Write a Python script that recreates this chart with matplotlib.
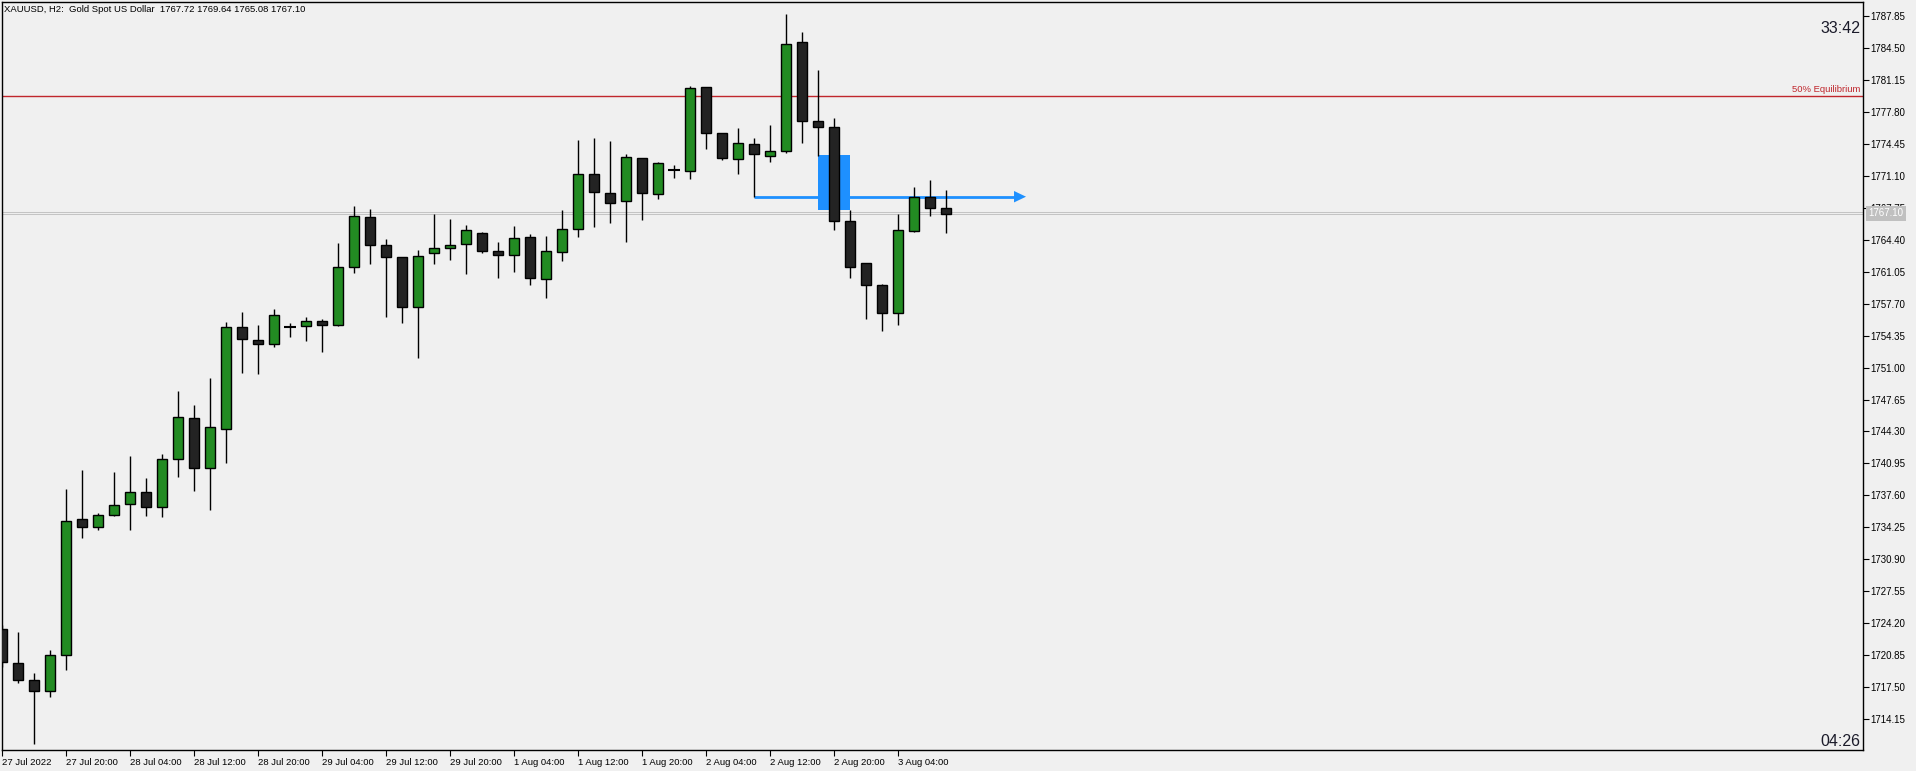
import matplotlib
matplotlib.use("Agg")
import matplotlib.pyplot as plt
from matplotlib.patches import Rectangle, Polygon
import numpy as np

# XAUUSD H2 candles, 27 Jul 12:00 .. 3 Aug 10:00
opens = [1723.56, 1720.00, 1718.22, 1717.06, 1720.84, 1735.09, 1734.25, 1735.51, 1736.67, 1737.92,
         1736.35, 1741.38, 1745.68, 1740.44, 1744.53, 1755.22, 1753.86, 1753.44, 1755.28, 1755.32,
         1755.85, 1755.43, 1761.51, 1766.75, 1763.81, 1762.56, 1757.32, 1762.98, 1763.50, 1763.92,
         1765.07, 1763.19, 1762.77, 1764.65, 1760.25, 1763.08, 1765.49, 1771.26, 1769.27, 1768.43,
         1772.93, 1769.16, 1771.71, 1771.57, 1780.38, 1775.55, 1772.83, 1774.40, 1773.14, 1773.67,
         1785.09, 1776.81, 1776.18, 1766.33, 1761.93, 1759.62, 1756.69, 1765.28, 1768.85, 1767.72]
highs = [1724.00, 1723.28, 1718.98, 1721.39, 1738.27, 1740.26, 1735.72, 1740.05, 1741.73, 1739.42,
         1741.94, 1748.54, 1747.04, 1749.90, 1755.74, 1756.79, 1755.46, 1757.14, 1755.64, 1756.30,
         1756.06, 1764.06, 1767.93, 1767.62, 1764.47, 1762.60, 1763.32, 1767.10, 1766.57, 1765.94,
         1765.21, 1764.16, 1765.84, 1765.00, 1764.79, 1767.51, 1774.85, 1775.06, 1774.75, 1773.38,
         1773.00, 1772.51, 1772.20, 1780.51, 1780.40, 1775.60, 1776.08, 1775.03, 1776.42, 1788.06,
         1786.17, 1782.19, 1777.13, 1767.48, 1761.95, 1759.73, 1767.06, 1769.93, 1770.66, 1769.64]
lows = [1719.60, 1717.90, 1711.51, 1716.50, 1719.33, 1733.16, 1734.00, 1735.45, 1734.00, 1735.47,
        1735.37, 1739.56, 1738.09, 1736.10, 1741.03, 1750.46, 1750.36, 1753.19, 1754.23, 1753.81,
        1752.66, 1755.32, 1760.94, 1761.89, 1756.33, 1755.70, 1752.03, 1761.89, 1762.30, 1760.84,
        1762.98, 1760.42, 1761.05, 1759.68, 1758.32, 1762.20, 1764.72, 1765.76, 1766.18, 1764.19,
        1766.50, 1768.70, 1770.90, 1770.80, 1773.94, 1772.72, 1771.32, 1768.85, 1772.51, 1773.46,
        1774.57, 1773.21, 1765.45, 1760.42, 1756.06, 1754.86, 1755.49, 1765.25, 1766.92, 1765.08]
closes = [1720.10, 1718.22, 1717.06, 1720.84, 1734.88, 1734.25, 1735.51, 1736.56, 1737.92, 1736.35,
          1741.38, 1745.78, 1740.44, 1744.74, 1755.22, 1753.96, 1753.44, 1756.48, 1755.28, 1755.85,
          1755.43, 1761.51, 1766.85, 1763.81, 1762.56, 1757.32, 1762.66, 1763.50, 1763.81, 1765.39,
          1763.19, 1762.77, 1764.55, 1760.36, 1763.19, 1765.49, 1771.26, 1769.37, 1768.22, 1773.04,
          1769.27, 1772.41, 1771.71, 1780.27, 1775.55, 1772.93, 1774.51, 1773.35, 1773.67, 1784.91,
          1776.81, 1776.18, 1766.33, 1761.51, 1759.62, 1756.69, 1765.39, 1768.85, 1767.69, 1767.10]

time_labels = ["27 Jul 2022", "27 Jul 20:00", "28 Jul 04:00", "28 Jul 12:00", "28 Jul 20:00",
               "29 Jul 04:00", "29 Jul 12:00", "29 Jul 20:00", "1 Aug 04:00", "1 Aug 12:00",
               "1 Aug 20:00", "2 Aug 04:00", "2 Aug 12:00", "2 Aug 20:00", "3 Aug 04:00"]
time_label_bars = [0, 4, 8, 12, 16, 20, 24, 28, 32, 36, 40, 44, 48, 52, 56]

price_ticks = [1714.15 + 3.35 * k for k in range(23)]

equilibrium = 1779.43
bid, ask = 1767.10, 1767.32
zone_bars = (51, 53)
zone_prices = (1767.51, 1773.28)
level_price = 1768.91
level_bars = (47, 64)

bg = "#f0f0f0"
up_col = "#228b22"
dn_col = "#232323"
blue = "#1e90ff"
font = ["Liberation Sans", "DejaVu Sans"]
plt.rcParams["font.family"] = font

W, H = 1916, 771
fig = plt.figure(figsize=(W / 100, H / 100), dpi=100, facecolor=bg)
ax = fig.add_axes([2 / W, 21 / H, 1861 / W, 748 / H], facecolor=bg)

n = len(opens)
bw = 0.62
for i in range(n):
    o, hi, lo, c = opens[i], highs[i], lows[i], closes[i]
    ax.vlines(i, lo, hi, color="black", lw=1.0, zorder=3)
    if abs(c - o) < 0.01:
        ax.hlines(o, i - 0.36, i + 0.36, color="black", lw=1.5, zorder=4)
        continue
    col = up_col if c > o else dn_col
    ax.add_patch(Rectangle((i - bw / 2, min(o, c)), bw, abs(c - o), facecolor=col,
                           edgecolor="black", lw=1.0, zorder=4))

# equilibrium and price lines
ax.axhline(equilibrium, color="#c0262c", lw=1.0, zorder=2)
ax.axhline(bid, color="#c4c4c4", lw=0.75, zorder=1)
ax.axhline(ask, color="#c4c4c4", lw=0.75, zorder=1)

# blue zone + level arrow
ax.add_patch(Rectangle((zone_bars[0], zone_prices[0]), zone_bars[1] - zone_bars[0],
                       zone_prices[1] - zone_prices[0], facecolor=blue, edgecolor="none", zorder=2))
ax.plot([level_bars[0], level_bars[1] - 0.7], [level_price, level_price], color=blue, lw=2.0,
        solid_capstyle="butt", zorder=2)
ah = 0.6
ax.add_patch(Polygon([[level_bars[1] - 0.75, level_price - ah], [level_bars[1] - 0.75, level_price + ah],
                      [level_bars[1], level_price]], closed=True, facecolor=blue, edgecolor="none",
                     zorder=2))

ax.set_xlim(0, 116.31)
ax.set_ylim(1710.91, 1789.32)

for s in ax.spines.values():
    s.set_color("black")
    s.set_linewidth(1.0)

ax.yaxis.tick_right()
ax.set_yticks(price_ticks)
ax.set_yticklabels(["%.2f" % p for p in price_ticks])
ax.tick_params(axis="y", direction="out", length=4, width=0.8, pad=1.5, labelsize=7,
               colors="black")
ax.set_xticks(time_label_bars)
ax.set_xticklabels(time_labels)
ax.tick_params(axis="x", direction="out", length=4, width=0.8, pad=1.5, labelsize=6.8,
               colors="black")
for t in ax.get_xticklabels():
    t.set_horizontalalignment("left")

# current price tag on the axis
fig.add_artist(Rectangle((1865.5 / W, 1 - 220.5 / H), 40 / W, 14 / H, transform=fig.transFigure,
                         facecolor="#c0c0c0", edgecolor="none"))
fig.text(1868 / W, 1 - 213.5 / H, "%.2f" % bid, color="white", fontsize=7, va="center", ha="left")

fig.text(4 / W, 1 - 9 / H, "XAUUSD, H2:  Gold Spot US Dollar  1767.72 1769.64 1765.08 1767.10",
         fontsize=6.8, va="center", ha="left", color="black")
fig.text(1860 / W, 1 - 28.5 / H, "33:42", fontsize=11.5, ha="right", va="center", color="#1b1b2a")
fig.text(1860 / W, 1 - 742 / H, "04:26", fontsize=11.5, ha="right", va="center", color="#1b1b2a")
fig.text(1860 / W, 1 - 90 / H, "50% Equilibrium", fontsize=6.8, ha="right", va="center",
         color="#c0262c")

fig.savefig("out.png", dpi=100, facecolor=bg)
